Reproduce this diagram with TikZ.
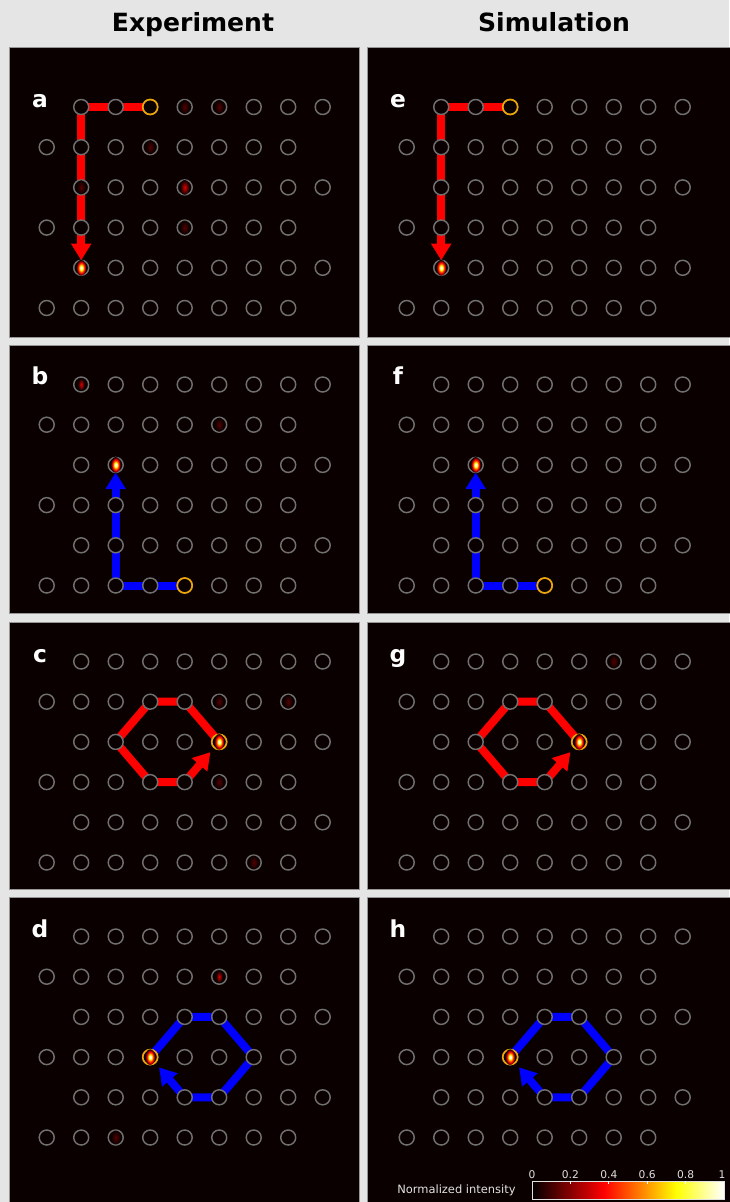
\documentclass[tikz,border=0pt]{standalone}
\usepackage{fontspec}
\setmainfont{DejaVu Sans}
\usetikzlibrary{arrows.meta}
\definecolor{panelbg}{RGB}{10,0,0}
\definecolor{pagebg}{RGB}{229,229,229}
\definecolor{panelframe}{RGB}{150,150,150}
\definecolor{ringgray}{RGB}{112,112,112}
\definecolor{startcol}{RGB}{240,165,0}
\definecolor{pathred}{RGB}{255,0,0}
\definecolor{pathblue}{RGB}{0,0,255}
\definecolor{spotdark}{RGB}{110,0,0}
\definecolor{spotmid}{RGB}{220,0,0}
\definecolor{spotfaint}{RGB}{85,0,0}
\definecolor{spotorange}{RGB}{255,120,0}
\definecolor{barblack}{RGB}{0,0,0}
\definecolor{barwhite}{RGB}{255,255,255}
\definecolor{baryellow}{RGB}{255,255,0}
\definecolor{labelgray}{RGB}{225,225,225}
\pgfdeclareradialshading{hotspot}{\pgfpoint{0bp}{0bp}}{color(0bp)=(barwhite); color(3.5bp)=(barwhite); color(8bp)=(baryellow); color(12bp)=(spotorange); color(17bp)=(pathred); color(22bp)=(spotdark); color(25bp)=(panelbg); color(50bp)=(panelbg)}
\pgfdeclareradialshading{midspot}{\pgfpoint{0bp}{0bp}}{color(0bp)=(spotmid); color(13bp)=(spotdark); color(25bp)=(panelbg); color(50bp)=(panelbg)}
\pgfdeclareradialshading{faintspot}{\pgfpoint{0bp}{0bp}}{color(0bp)=(spotfaint); color(25bp)=(panelbg); color(50bp)=(panelbg)}
\pgfdeclarehorizontalshading{hotbar}{100bp}{color(0bp)=(barblack); color(25bp)=(barblack); color(43.75bp)=(pathred); color(62.5bp)=(baryellow); color(75bp)=(barwhite); color(100bp)=(barwhite)}
\pgfdeclarelayer{back}
\pgfdeclarelayer{links}
\pgfsetlayers{back,links,main}
\newcommand{\drawlattice}[3]{%
  \foreach \r in {0,2,4}{\foreach \c in {1,...,8}{\node[ring] (#1-\c-\r) at ({#2+34.5*\c},{#3+40.2*\r}) {};}}%
  \foreach \r in {1,3,5}{\foreach \c in {0,...,7}{\node[ring] (#1-\c-\r) at ({#2+34.5*\c},{#3+40.2*\r}) {};}}%
}
\begin{document}
\begin{tikzpicture}[x=0.75pt,y=-0.75pt,
  ring/.style={circle, draw=ringgray, line width=1.1pt, fill=panelbg, minimum size=11.25pt, inner sep=0pt, outer sep=0pt},
  startring/.style={draw=startcol, line width=1.2pt},
  panel/.style={fill=panelbg, draw=panelframe, line width=0.75pt},
  redlink/.style={draw=pathred, line width=6pt},
  bluelink/.style={draw=pathblue, line width=6pt},
  arrowhd/.style={-{Triangle[width=14.5pt,length=12.5pt]}},
  title/.style={font=\fontsize{18.8}{22}\selectfont\bfseries, text=black, anchor=base, inner sep=0pt},
  plabel/.style={font=\fontsize{17.5}{20}\selectfont\bfseries, text=white, anchor=base, inner sep=0pt},
  barlabel/.style={font=\fontsize{8}{9}\selectfont, text=labelgray, anchor=base, inner sep=0pt}]
\useasboundingbox (0,0) rectangle (729,1202);
\begin{pgfonlayer}{back}
  \fill[pagebg] (0,0) rectangle (729,1202);
  \draw[panel] (9,48) rectangle (359,337);
  \draw[panel] (367,48) rectangle (732,337);
  \draw[panel] (9,345) rectangle (359,613);
  \draw[panel] (367,345) rectangle (732,613);
  \draw[panel] (9,622) rectangle (359,889);
  \draw[panel] (367,622) rectangle (732,889);
  \draw[panel] (9,897) rectangle (359,1205);
  \draw[panel] (367,897) rectangle (732,1205);
\end{pgfonlayer}
% titles
\node[title] (texp) at (193,32) {Experiment};
\node[title] (tsim) at (554,32) {Simulation};
% lattices
\drawlattice{a}{46.7}{107}
\drawlattice{e}{406.7}{107}
\drawlattice{b}{46.7}{384.5}
\drawlattice{f}{406.7}{384.5}
\drawlattice{c}{46.7}{661.5}
\drawlattice{g}{406.7}{661.5}
\drawlattice{d}{46.7}{936.5}
\drawlattice{h}{406.7}{936.5}
% panel letters
\node[plabel] (la) at (40,107.5) {a};
\node[plabel] (le) at (398,107.5) {e};
\node[plabel] (lb) at (40,384.5) {b};
\node[plabel] (lf) at (398,384.5) {f};
\node[plabel] (lc) at (40,662) {c};
\node[plabel] (lg) at (398,662) {g};
\node[plabel] (ld) at (40,937) {d};
\node[plabel] (lh) at (398,937) {h};
% paths
\begin{pgfonlayer}{links}
  \foreach \p in {a,e}{
    \draw[redlink] (\p-3-0.center) -- (\p-1-0.center) -- (\p-1-3.center);
    \draw[redlink, arrowhd] (\p-1-3.center) -- (\p-1-4);
  }
  \foreach \p in {b,f}{
    \draw[bluelink] (\p-4-5.center) -- (\p-2-5.center) -- (\p-2-3.center);
    \draw[bluelink, arrowhd] (\p-2-3.center) -- (\p-2-2);
  }
  \foreach \p in {c,g}{
    \draw[redlink, line join=round] (\p-5-2.center) -- (\p-4-1.center) -- (\p-3-1.center) -- (\p-2-2.center) -- (\p-3-3.center) -- (\p-4-3.center);
    \draw[redlink, arrowhd, shorten >=4.5pt] (\p-4-3.center) -- (\p-5-2);
  }
  \foreach \p in {d,h}{
    \draw[bluelink, line join=round] (\p-3-3.center) -- (\p-4-2.center) -- (\p-5-2.center) -- (\p-6-3.center) -- (\p-5-4.center) -- (\p-4-4.center);
    \draw[bluelink, arrowhd, shorten >=4.5pt] (\p-4-4.center) -- (\p-3-3);
  }
\end{pgfonlayer}
% start rings
\foreach \n in {a-3-0,e-3-0,b-4-5,f-4-5,c-5-2,g-5-2,d-3-3,h-3-3}{
  \draw[startring] (\n.center) circle[radius=7.5];
}
% bright spots
\foreach \n in {a-1-4,e-1-4,b-2-2,f-2-2,c-5-2,g-5-2,d-3-3,h-3-3}{
  \shade[shading=hotspot] (\n.center) ellipse[x radius=5, y radius=7.8];
}
% weaker spots
\shade[shading=midspot] (a-4-2.center) ellipse[x radius=4.6, y radius=7.4];
\foreach \n in {a-3-1,a-4-0,a-5-0,a-1-2,a-4-3,b-5-1,c-5-1,c-7-1,c-5-3,c-6-5,d-2-5,g-6-0}{
  \shade[shading=faintspot] (\n.center) ellipse[x radius=4.4, y radius=7];
}
\foreach \n in {b-1-0,d-5-1}{
  \shade[shading=midspot] (\n.center) ellipse[x radius=3.4, y radius=6];
}
% colour bar
\shadedraw[shading=hotbar, draw=labelgray, line width=0.5pt] (532,1181) rectangle (724,1199);
\foreach \i in {1,...,4}{
  \draw[white, line width=0.6pt] ({532+38.4*\i},1181) -- ++(0,3);
}
\node[barlabel] (b0) at (532,1178) {0};
\node[barlabel] (b1) at (570.4,1178) {0.2};
\node[barlabel] (b2) at (608.8,1178) {0.4};
\node[barlabel] (b3) at (647.2,1178) {0.6};
\node[barlabel] (b4) at (685.6,1178) {0.8};
\node[barlabel] (b5) at (722,1178) {1};
\node[font=\fontsize{8.6}{10}\selectfont, text=labelgray, anchor=base west, inner sep=0pt] (bartitle) at (397,1193) {Normalized intensity};
\end{tikzpicture}
\end{document}
